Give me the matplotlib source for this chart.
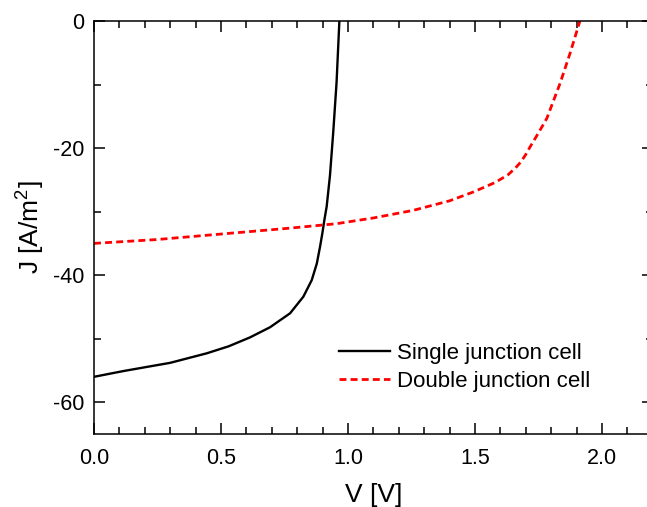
import matplotlib
matplotlib.use("Agg")
import matplotlib.pyplot as plt
from matplotlib.ticker import MultipleLocator

plt.rcParams['font.family'] = ['Liberation Sans', 'DejaVu Sans']
plt.rcParams['mathtext.fontset'] = 'custom'
plt.rcParams['mathtext.rm'] = 'Liberation Sans'
plt.rcParams['axes.unicode_minus'] = False

# single junction cell (V, J)
v_single = [0.0, 0.115, 0.2, 0.3, 0.444, 0.53, 0.614, 0.693, 0.772, 0.824,
            0.857, 0.877, 0.890, 0.899, 0.907, 0.916, 0.929, 0.942, 0.955, 0.966]
j_single = [-56.0, -55.1, -54.5, -53.8, -52.3, -51.2, -49.8, -48.2, -46.0, -43.4,
            -40.8, -38.2, -35.5, -33.4, -31.3, -29.2, -24.3, -17.4, -9.6, 0.0]

# double junction cell (V, J)
v_double = [0.0, 0.247, 0.509, 0.772, 0.955, 1.1, 1.257, 1.4, 1.494, 1.58,
            1.63, 1.66, 1.68, 1.70, 1.717, 1.75, 1.783, 1.835, 1.874, 1.913]
j_double = [-35.0, -34.4, -33.5, -32.6, -31.9, -31.0, -29.8, -28.3, -26.9, -25.4,
            -24.2, -23.1, -22.2, -21.0, -19.8, -17.6, -15.3, -9.8, -5.1, 0.0]

fig = plt.figure(figsize=(6.47, 5.07), dpi=100)
ax = fig.add_axes([0.1453, 0.144, 0.8637, 0.8146])

ax.plot(v_single, j_single, color='black', lw=1.7, label='Single junction cell')
ax.plot(v_double, j_double, color='red', lw=2, ls=(0, (2.5, 1.5)), label='Double junction cell')

ax.set_xlim(0, 2.2)
ax.set_ylim(-65, 0)
ax.xaxis.set_major_locator(MultipleLocator(0.5))
ax.xaxis.set_minor_locator(MultipleLocator(0.1))
ax.yaxis.set_major_locator(MultipleLocator(20))
ax.yaxis.set_minor_locator(MultipleLocator(10))
ax.xaxis.set_major_formatter(matplotlib.ticker.FormatStrFormatter('%.1f'))
ax.tick_params(which='both', direction='in', top=True, right=True, width=1.1, labelsize=15.5)
ax.tick_params(which='major', length=8)
ax.tick_params(which='minor', length=5)
ax.tick_params(axis='x', pad=10)
ax.tick_params(axis='y', pad=7)
for s in ax.spines.values():
    s.set_linewidth(1.1)

ax.set_xlabel('V [V]', fontsize=19, labelpad=10)
ax.set_ylabel(r'J [A/m$^\mathregular{2}$]', fontsize=19, labelpad=5)

ax.legend(loc='upper left', bbox_to_anchor=(0.439, 0.22), frameon=False, fontsize=16,
          handlelength=2.3, handletextpad=0.3, borderpad=0, borderaxespad=0, labelspacing=0.3)

fig.savefig('out.png', dpi=100)
